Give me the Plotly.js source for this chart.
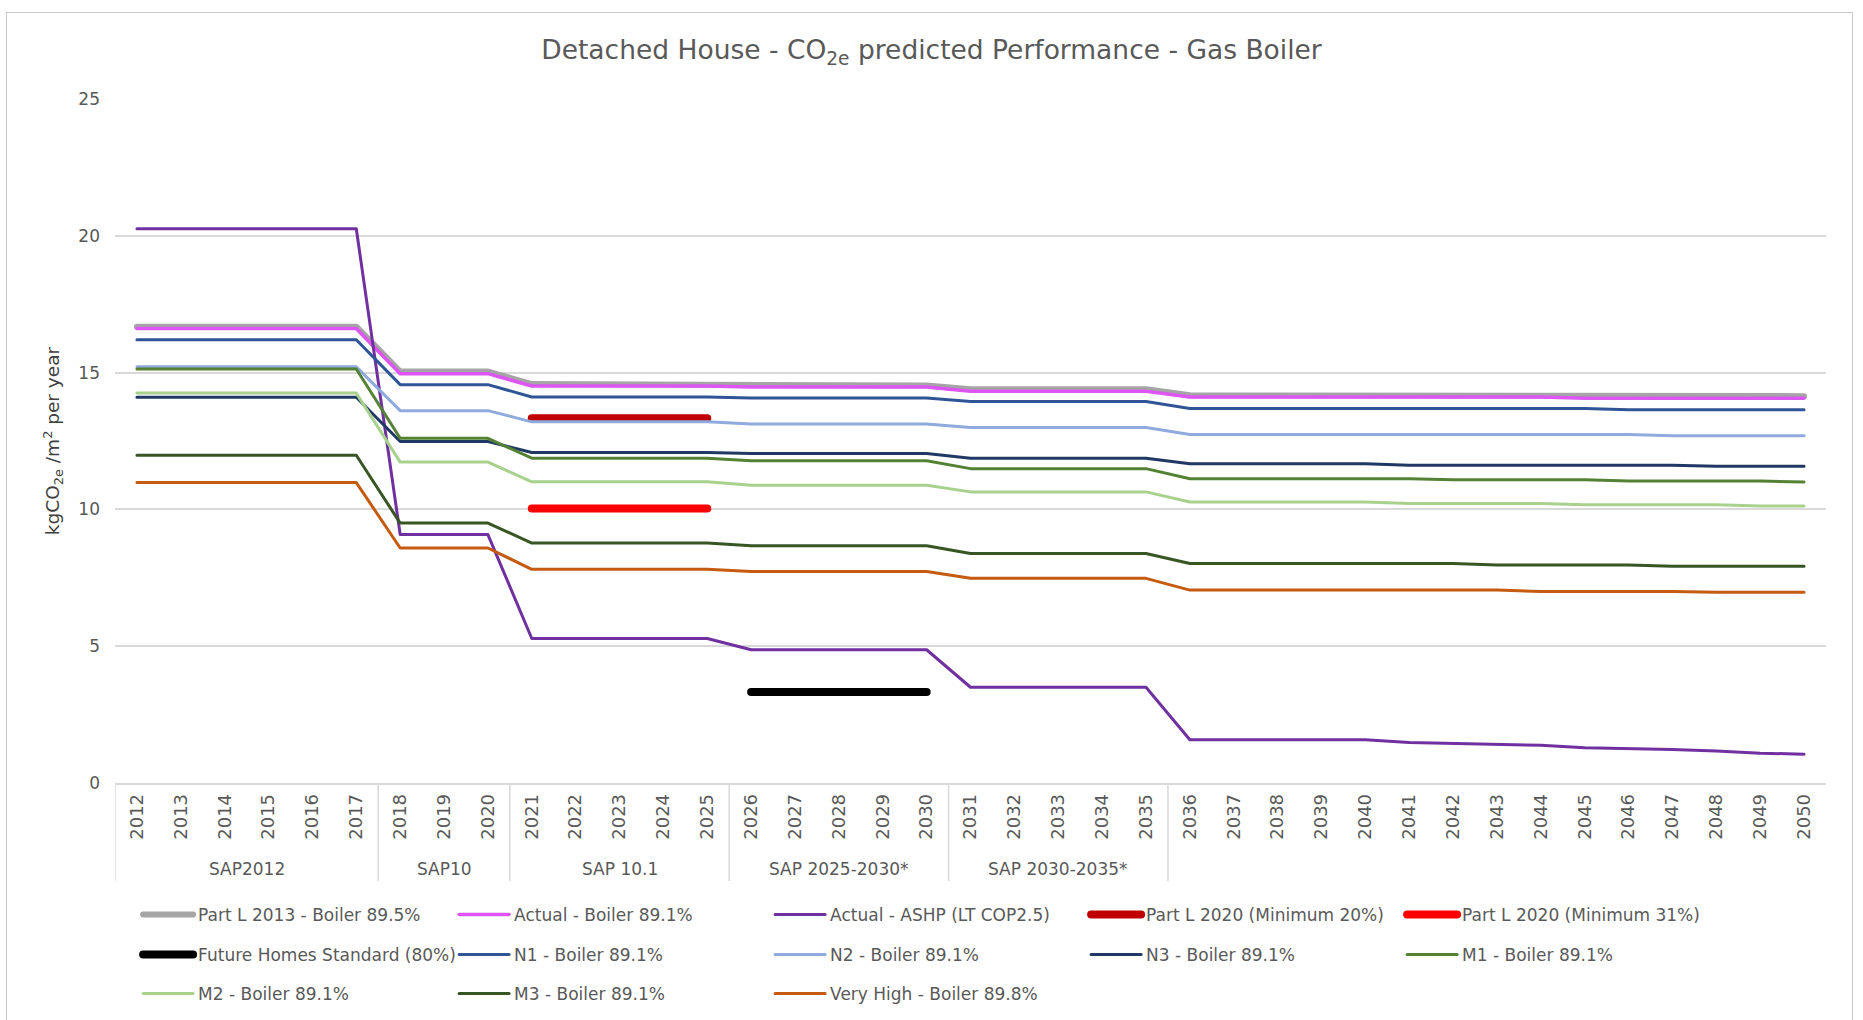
<!DOCTYPE html>
<html><head><meta charset="utf-8">
<script src="https://cdn.plot.ly/plotly-3.0.1.min.js"></script>
<style>
html,body{margin:0;padding:0;background:#fff;overflow:hidden;}
#chart{position:absolute;left:0;top:0;width:1863px;height:1020px;}
#frame{position:absolute;left:6px;top:12px;width:1847px;height:1040px;border:1px solid #c9c9c9;pointer-events:none;box-sizing:border-box;}
.scatterlayer .js-line{stroke-linecap:round;stroke-linejoin:round;}
.legendlines path{stroke-linecap:round;}
</style></head>
<body><div id="chart"></div><div id="frame"></div>
<script>
// ---- categories ----
const years = ['2012','2013','2014','2015','2016','2017','2018','2019','2020','2021','2022','2023','2024','2025',
  '2026','2027','2028','2029','2030','2031','2032','2033','2034','2035','2036','2037','2038','2039','2040',
  '2041','2042','2043','2044','2045','2046','2047','2048','2049','2050'];
const groupNames = ['SAP2012','SAP10','SAP 10.1','SAP 2025-2030*','SAP 2030-2035*',''];
const groupSizes = [6,3,5,5,5,15];

// ---- series (kgCO2e/m2 per year) ----
const partL2013 = [16.68,16.68,16.68,16.68,16.68,16.68, 15.04,15.04,15.04, 14.58,14.58,14.58,14.58,14.58,
  14.53,14.53,14.53,14.53,14.53, 14.39,14.39,14.39,14.39,14.39,
  14.17,14.17,14.17,14.17,14.17,14.17,14.17,14.17,14.17,14.14,14.14,14.14,14.14,14.14,14.14];
const actualBoiler = [16.61,16.61,16.61,16.61,16.61,16.61, 14.96,14.96,14.96, 14.51,14.51,14.51,14.51,14.51,
  14.47,14.47,14.47,14.47,14.47, 14.32,14.32,14.32,14.32,14.32,
  14.11,14.11,14.11,14.11,14.11,14.11,14.11,14.11,14.11,14.06,14.06,14.06,14.06,14.06,14.06];
const actualASHP = [20.26,20.26,20.26,20.26,20.26,20.26, 9.08,9.08,9.08, 5.28,5.28,5.28,5.28,5.28,
  4.87,4.87,4.87,4.87,4.87, 3.5,3.5,3.5,3.5,3.5,
  1.58,1.58,1.58,1.58,1.58,1.48,1.44,1.41,1.38,1.29,1.26,1.22,1.17,1.09,1.05];
const partL2020min20 = [null,null,null,null,null,null, null,null,null, 13.33,13.33,13.33,13.33,13.33,
  null,null,null,null,null, null,null,null,null,null,
  null,null,null,null,null,null,null,null,null,null,null,null,null,null,null];
const partL2020min31 = [null,null,null,null,null,null, null,null,null, 10.03,10.03,10.03,10.03,10.03,
  null,null,null,null,null, null,null,null,null,null,
  null,null,null,null,null,null,null,null,null,null,null,null,null,null,null];
const futureHomes = [null,null,null,null,null,null, null,null,null, null,null,null,null,null,
  3.33,3.33,3.33,3.33,3.33, null,null,null,null,null,
  null,null,null,null,null,null,null,null,null,null,null,null,null,null,null];
const n1 = [16.2,16.2,16.2,16.2,16.2,16.2, 14.56,14.56,14.56, 14.11,14.11,14.11,14.11,14.11,
  14.07,14.07,14.07,14.07,14.07, 13.94,13.94,13.94,13.94,13.94,
  13.69,13.69,13.69,13.69,13.69,13.69,13.69,13.69,13.69,13.69,13.64,13.64,13.64,13.64,13.64];
const n2 = [15.21,15.21,15.21,15.21,15.21,15.21, 13.61,13.61,13.61, 13.2,13.2,13.2,13.2,13.2,
  13.12,13.12,13.12,13.12,13.12, 12.99,12.99,12.99,12.99,12.99,
  12.74,12.74,12.74,12.74,12.74,12.74,12.74,12.74,12.74,12.74,12.74,12.69,12.69,12.69,12.69];
const n3 = [14.1,14.1,14.1,14.1,14.1,14.1, 12.48,12.48,12.48, 12.08,12.08,12.08,12.08,12.08,
  12.04,12.04,12.04,12.04,12.04, 11.87,11.87,11.87,11.87,11.87,
  11.67,11.67,11.67,11.67,11.67,11.61,11.61,11.61,11.61,11.61,11.61,11.61,11.58,11.58,11.58];
const m1 = [15.13,15.13,15.13,15.13,15.13,15.13, 12.6,12.6,12.6, 11.87,11.87,11.87,11.87,11.87,
  11.78,11.78,11.78,11.78,11.78, 11.49,11.49,11.49,11.49,11.49,
  11.12,11.12,11.12,11.12,11.12,11.12,11.08,11.08,11.08,11.08,11.04,11.04,11.04,11.04,11.0];
const m2 = [14.25,14.25,14.25,14.25,14.25,14.25, 11.73,11.73,11.73, 11.01,11.01,11.01,11.01,11.01,
  10.88,10.88,10.88,10.88,10.88, 10.64,10.64,10.64,10.64,10.64,
  10.27,10.27,10.27,10.27,10.27,10.22,10.22,10.22,10.22,10.17,10.17,10.17,10.17,10.12,10.12];
const m3 = [11.98,11.98,11.98,11.98,11.98,11.98, 9.5,9.5,9.5, 8.77,8.77,8.77,8.77,8.77,
  8.67,8.67,8.67,8.67,8.67, 8.39,8.39,8.39,8.39,8.39,
  8.02,8.02,8.02,8.02,8.02,8.02,8.02,7.97,7.97,7.97,7.97,7.92,7.92,7.92,7.92];
const veryHigh = [10.98,10.98,10.98,10.98,10.98,10.98, 8.59,8.59,8.59, 7.81,7.81,7.81,7.81,7.81,
  7.73,7.73,7.73,7.73,7.73, 7.48,7.48,7.48,7.48,7.48,
  7.05,7.05,7.05,7.05,7.05,7.05,7.05,7.05,7.0,7.0,7.0,7.0,6.97,6.97,6.97];

const seriesNames = ['Part L 2013 - Boiler 89.5%','Actual - Boiler 89.1%','Actual - ASHP (LT COP2.5)',
  'Part L 2020 (Minimum 20%)','Part L 2020 (Minimum 31%)','Future Homes Standard (80%)',
  'N1 - Boiler 89.1%','N2 - Boiler 89.1%','N3 - Boiler 89.1%','M1 - Boiler 89.1%',
  'M2 - Boiler 89.1%','M3 - Boiler 89.1%','Very High - Boiler 89.8%'];
const seriesValues = [partL2013, actualBoiler, actualASHP, partL2020min20, partL2020min31, futureHomes,
  n1, n2, n3, m1, m2, m3, veryHigh];
const seriesColors = ['#A5A5A5','#DD55F2','#7030A0','#C00000','#FF0000','#000000',
  '#2F5597','#8FAADC','#203864','#548235','#A9D18E','#375623','#C55A11'];
const seriesWidths = [6,3.5,3,8,8,8,3,3,3,3,3,3,3];
const legendRows = ['legend','legend','legend','legend','legend','legend2','legend2','legend2','legend2','legend2','legend3','legend3','legend3'];

const FONT = 'DejaVu Sans, Liberation Sans, Arial, sans-serif';

const traces = seriesNames.map((name, i) => ({
  type: 'scatter', mode: 'lines', name: name,
  x: years, y: seriesValues[i],
  line: {color: seriesColors[i], width: seriesWidths[i]},
  connectgaps: false, legend: legendRows[i], hoverinfo: 'x+y+name'
}));

// group dividers and labels under the axis
const plotTop = 99, plotBottom = 783, plotH = plotBottom - plotTop;
const divBottom = (plotBottom - 881) / plotH;
const labelY = (plotBottom - 869) / plotH;
const shapes = [];
const annotations = [];
let start = 0;
shapes.push({type:'line', xref:'x', yref:'paper', x0:-0.5, x1:-0.5, y0:0, y1:divBottom, line:{color:'#D9D9D9', width:1.5}});
groupNames.forEach((g, i) => {
  const end = start + groupSizes[i];
  if (g !== '') {
    shapes.push({type:'line', xref:'x', yref:'paper', x0:end-0.5, x1:end-0.5, y0:0, y1:divBottom, line:{color:'#D9D9D9', width:1.5}});
    annotations.push({xref:'x', yref:'paper', x:(start+end-1)/2, y:labelY, text:g, showarrow:false,
      xanchor:'center', yanchor:'middle', font:{family:FONT, size:17, color:'#595959'}});
  }
  start = end;
});

const legendBase = {orientation:'h', xanchor:'left', yanchor:'middle', x:0.0135,
  entrywidth:251, entrywidthmode:'pixels', itemwidth:50, traceorder:'normal',
  font:{family:FONT, size:17, color:'#595959'}, bgcolor:'rgba(0,0,0,0)', borderwidth:0};

const layout = {
  width:1863, height:1020,
  margin:{l:115, r:37, t:plotTop, b:1020-plotBottom, autoexpand:false},
  paper_bgcolor:'#ffffff', plot_bgcolor:'#ffffff',
  title:{text:'Detached House - CO<sub>2e</sub> predicted Performance - Gas Boiler',
    font:{family:FONT, size:26.5, color:'#595959'}, x:0.5, xref:'container', xanchor:'center',
    y:1-50/1020, yref:'container', yanchor:'middle'},
  xaxis:{type:'category', tickangle:-90, tickfont:{family:FONT, size:18, color:'#595959'},
    showgrid:false, zeroline:false, showline:true, linecolor:'#D9D9D9', linewidth:1.5,
    ticks:'', ticklabelstandoff:2, range:[-0.5, years.length-0.5], fixedrange:true},
  yaxis:{range:[0,25], dtick:5, tick0:0, tickfont:{family:FONT, size:17, color:'#595959'},
    showgrid:true, gridcolor:'#D9D9D9', gridwidth:1.5, zeroline:false, showline:false, ticks:'',
    ticklabelstandoff:14, fixedrange:true,
    title:{text:'kgCO<sub>2e</sub> /m<sup>2</sup> per year', font:{family:FONT, size:18.5, color:'#404040'}, standoff:13}},
  legend:Object.assign({}, legendBase, {y:(plotBottom-915)/plotH}),
  legend2:Object.assign({}, legendBase, {y:(plotBottom-955)/plotH}),
  legend3:Object.assign({}, legendBase, {y:(plotBottom-994)/plotH}),
  shapes:shapes, annotations:annotations, showlegend:true
};

Plotly.newPlot('chart', traces, layout, {displayModeBar:false, staticPlot:false});
</script>
</body></html>
